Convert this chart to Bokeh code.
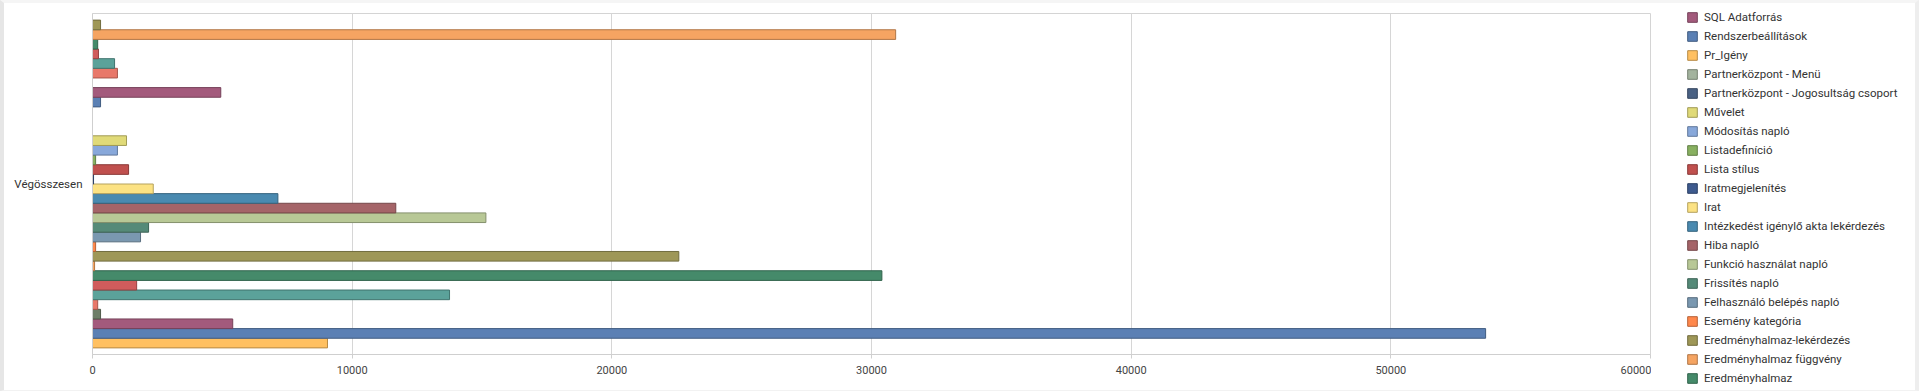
from bokeh.plotting import figure
from bokeh.layouts import row
from bokeh.models import (FactorRange, Range1d, ColumnDataSource, Legend, LegendItem,
                          FixedTicker)
from bokeh.transform import dodge
from bokeh.embed import file_html
from bokeh.resources import INLINE

# ---------------- data ----------------
category = ["Végösszesen"]

# series in drawing order, bottom bar first (names not readable in the picture are None)
series_names = [
    None, None, None, None, None, None, None,
    "Eredményhalmaz", "Eredményhalmaz függvény", "Eredményhalmaz-lekérdezés",
    "Esemény kategória", "Felhasználó belépés napló", "Frissítés napló",
    "Funkció használat napló", "Hiba napló", "Intézkedést igénylő akta lekérdezés",
    "Irat", "Iratmegjelenítés", "Lista stílus", "Listadefiníció", "Módosítás napló",
    "Művelet", "Partnerközpont - Jogosultság csoport", "Partnerközpont - Menü",
    "Pr_Igény", "Rendszerbeállítások", "SQL Adatforrás",
    None, None, None, None, None, None, None,
]
series_values = [
    9050, 53650, 5400, 310, 200, 13750, 1700,
    30400, 80, 22580, 120, 1850, 2160, 15150, 11680, 7140, 2340, 40, 1390, 120,
    960, 1310, 0, 0, 0, 310, 4940,
    0, 960, 850, 230, 200, 30930, 310,
]
series_colors = [
    "#FFC061", "#5B80B4", "#A35A7C", "#6E7E68", "#E8786A", "#5BA29A", "#D05C5C",
    "#458A6A", "#F5A462", "#9E9757", "#FF884C", "#7A98B0", "#558A78", "#B8C896",
    "#A56468", "#4A8AB0", "#FCE283", "#3E5A8E", "#C0504E", "#88B060", "#88A8DA",
    "#E0DA78", "#4A6284", "#A3B39E", "#FFC061", "#5B80B4", "#A35A7C",
    "#6E7E68", "#E8786A", "#5BA29A", "#D05C5C", "#458A6A", "#F5A462", "#9E9757",
]
x_ticks = [0, 10000, 20000, 30000, 40000, 50000, 60000]


def darker(hex_color, f=0.72):
    h = hex_color.lstrip("#")
    r, g, b = (int(h[i:i + 2], 16) for i in (0, 2, 4))
    return "#%02X%02X%02X" % (int(r * f), int(g * f), int(b * f))


# ---------------- main chart ----------------
p = figure(
    width=1647, height=387,
    y_range=FactorRange(factors=category, range_padding=0),
    x_range=Range1d(0, 60000),
    output_backend="svg", toolbar_location=None,
    min_border_left=88, min_border_right=1, min_border_top=10, min_border_bottom=36,
    background_fill_color="white", border_fill_color="white",
)
p.outline_line_color = "#D4D4D4"

n = len(series_values)
slot = 0.02827
renderers = []
for i in range(n):
    src = ColumnDataSource(dict(cat=category, val=[series_values[i]]))
    off = (i - (n - 1) / 2) * slot
    r = p.hbar(y=dodge("cat", off, range=p.y_range), right="val", left=0,
               height=slot, source=src,
               fill_color=series_colors[i], line_color=darker(series_colors[i]),
               line_width=1)
    renderers.append(r)

p.xaxis.ticker = FixedTicker(ticks=x_ticks)
p.xaxis.axis_line_color = "#CFCFCF"
p.xaxis.major_tick_line_color = "#CFCFCF"
p.xaxis.major_tick_out = 4
p.xaxis.major_tick_in = 0
p.xaxis.minor_tick_line_color = None
p.xaxis.major_label_text_font = "Roboto"
p.xaxis.major_label_text_font_size = "11px"
p.xaxis.major_label_text_color = "#444444"
p.xaxis.major_label_standoff = 7

p.yaxis.axis_line_color = "#CFCFCF"
p.yaxis.major_tick_line_color = None
p.yaxis.major_tick_out = 0
p.yaxis.major_label_text_font = "Roboto"
p.yaxis.major_label_text_font_size = "11.5px"
p.yaxis.major_label_text_color = "#333333"
p.yaxis.major_label_standoff = 10

p.xgrid.grid_line_color = "#D6D6D6"
p.ygrid.grid_line_color = None

# ---------------- legend panel ----------------
pl = figure(
    width=264, height=387, x_range=Range1d(0, 1), y_range=Range1d(0, 1),
    x_axis_location=None, y_axis_location=None,
    output_backend="svg", toolbar_location=None,
    min_border=0, background_fill_color="white", border_fill_color="white",
)
pl.grid.visible = False
pl.outline_line_color = None

# do not align the legend panel's frame with the chart's frame
for fig in (p, pl):
    if "frame_align" in fig.properties():
        fig.frame_align = False

items = []
for i in range(n - 1, -1, -1):
    if series_names[i] is not None:
        proxy = ColumnDataSource(dict(y=[0], right=[0]))
        dummy = pl.hbar(y="y", right="right", left=0, height=0, source=proxy,
                        fill_color=series_colors[i], line_color=darker(series_colors[i]))
        items.append(LegendItem(label=series_names[i], renderers=[dummy]))

legend = Legend(items=items, location=(35, 5), ncols=1)
legend.padding = 0
legend.margin = 0
legend.spacing = 5
legend.glyph_width = 12
legend.glyph_height = 12
legend.label_height = 12
legend.label_standoff = 6
legend.label_text_font = "Roboto"
legend.label_text_font_size = "11.5px"
legend.label_text_color = "#333333"
legend.border_line_alpha = 0
legend.background_fill_alpha = 0
pl.add_layout(legend)

layout = row(p, pl)
layout.styles = {
    "border-left": "4px solid #E6E6E6",
    "border-right": "4px solid #EEEEEE",
    "border-top": "3px solid #F5F5F5",
    "border-bottom": "1px solid #F2F2F2",
}

open("out.html", "w").write(file_html(layout, INLINE))
